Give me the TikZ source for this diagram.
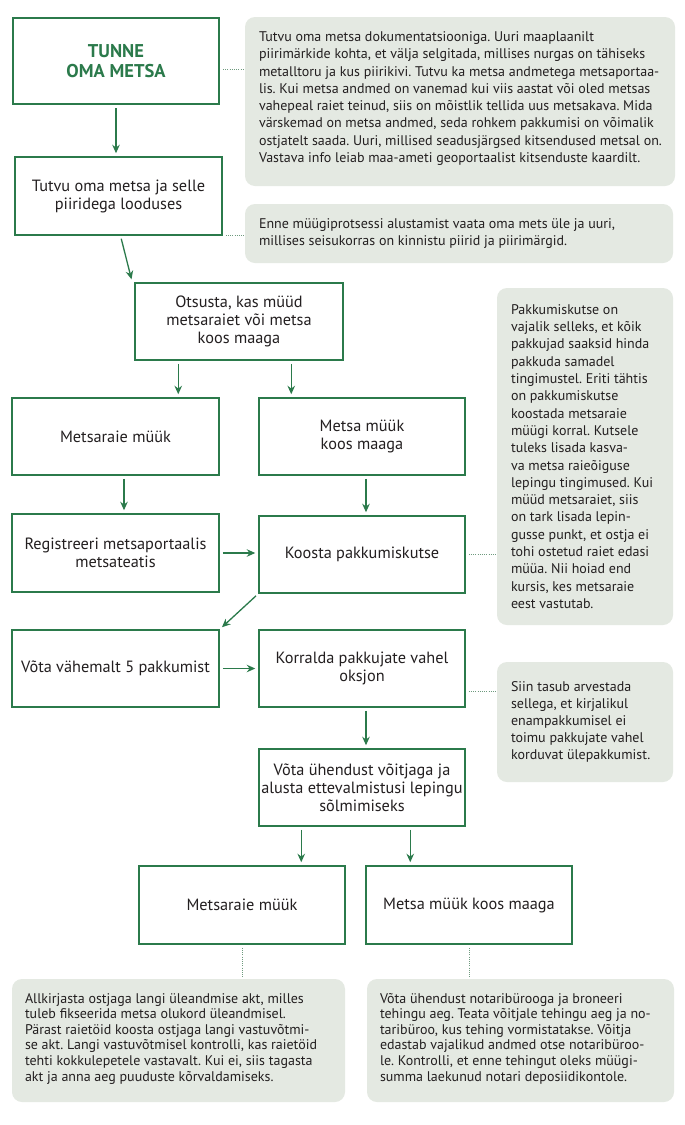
\documentclass[tikz,border=0pt]{standalone}
\usepackage{fontspec}
\setmainfont{PT Sans}
\usetikzlibrary{arrows.meta,calc}
\definecolor{fgreen}{HTML}{2B7A4B}
\definecolor{notefill}{HTML}{E4E9E2}
\definecolor{dotcol}{HTML}{6E9A7E}
\definecolor{txt}{HTML}{231F20}
\tikzset{
  box/.style={draw=fgreen, line width=1.5pt, fill=white, minimum width=206pt, minimum height=77pt,
    align=center, inner sep=2pt, text=txt, font=\fontsize{16.3}{18}\selectfont},
  note/.style={fill=notefill, rounded corners=10pt, inner sep=0pt},
  notetext/.style={anchor=west, align=left, inner sep=0pt, text=txt, font=\fontsize{14}{17.3}\selectfont},
  arr/.style={draw=fgreen, line width=1.3pt, -{Stealth[length=8.5pt,width=7.5pt]}, shorten <=3pt, shorten >=3pt},
  dotline/.style={draw=dotcol, line width=0.9pt, dash pattern=on 0.9pt off 1.3pt, shorten <=3pt, shorten >=1pt}
}
\begin{document}
\frenchspacing
\begin{tikzpicture}[x=1pt,y=-1pt]
\useasboundingbox[fill=white] (0,0) rectangle (685,1125);
% boxes
\node[box, line width=2pt, minimum width=206pt, minimum height=86pt, text=fgreen,
  font=\fontsize{18.5}{19.5}\selectfont\bfseries] (b1) at (116,61) {TUNNE\\OMA METSA};
\node[box, minimum width=207pt, minimum height=78pt] (b2) at (118.5,196) {Tutvu oma metsa ja selle\\piiridega looduses};
\node[box, minimum width=208pt] (b3) at (239,321.5) {Otsusta, kas müüd\\metsaraiet või metsa\\koos maaga};
\node[box, minimum width=207pt] (b4) at (115.5,436.5) {Metsaraie müük};
\node[box] (b5) at (362,436.5) {Metsa müük\\koos maaga};
\node[box, minimum width=207pt, minimum height=78pt] (b6) at (115.5,553) {Registreeri metsaportaalis\\metsateatis};
\node[box] (b7) at (362,554.5) {Koosta pakkumiskutse};
\node[box, minimum width=207pt] (b8) at (115.5,668.5) {Võta vähemalt 5 pakkumist};
\node[box] (b9) at (362,668.5) {Korralda pakkujate vahel\\oksjon};
\node[box] (b10) at (362,787.5) {Võta ühendust võitjaga ja\\alusta ettevalmistusi lepingu\\sõlmimiseks};
\node[box, minimum height=78pt] (b11) at (242,905) {Metsaraie müük};
\node[box, minimum height=78pt] (b12) at (469,905) {Metsa müük koos maaga};
% notes
\node[note, minimum width=430pt, minimum height=169pt] (n1) at (460,101.5) {};
\node[notetext] (t1) at ([xshift=14pt,yshift=3pt]n1.west) {Tutvu oma metsa dokumentatsiooniga. Uuri maaplaanilt\\
piirimärkide kohta, et välja selgitada, millises nurgas on tähiseks\\
metalltoru ja kus piirikivi. Tutvu ka metsa andmetega metsaportaa-\\
lis. Kui metsa andmed on vanemad kui viis aastat või oled metsas\\
vahepeal raiet teinud, siis on mõistlik tellida uus metsakava. Mida\\
värskemad on metsa andmed, seda rohkem pakkumisi on võimalik\\
ostjatelt saada. Uuri, millised seadusjärgsed kitsendused metsal on.\\
Vastava info leiab maa-ameti geoportaalist kitsenduste kaardilt.};
\node[note, minimum width=428pt, minimum height=59pt] (n2) at (459,233.5) {};
\node[notetext, font=\fontsize{14}{16.2}\selectfont] (t2) at ([xshift=14pt]n2.west) {Enne müügiprotsessi alustamist vaata oma mets üle ja uuri,\\
millises seisukorras on kinnistu piirid ja piirimärgid.};
\node[note, minimum width=176pt, minimum height=337pt] (n3) at (585,456.5) {};
\node[notetext] (t3) at ([xshift=14pt]n3.west) {Pakkumiskutse on\\
vajalik selleks, et kõik\\
pakkujad saaksid hinda\\
pakkuda samadel\\
tingimustel. Eriti tähtis\\
on pakkumiskutse\\
koostada metsaraie\\
müügi korral. Kutsele\\
tuleks lisada kasva-\\
va metsa raieõiguse\\
lepingu tingimused. Kui\\
müüd metsaraiet, siis\\
on tark lisada lepin-\\
gusse punkt, et ostja ei\\
tohi ostetud raiet edasi\\
müüa. Nii hoiad end\\
kursis, kes metsaraie\\
eest vastutab.};
\node[note, minimum width=176pt, minimum height=120pt] (n4) at (585,722) {};
\node[notetext, font=\fontsize{14}{17}\selectfont] (t4) at ([xshift=14pt]n4.west) {Siin tasub arvestada\\
sellega, et kirjalikul\\
enampakkumisel ei\\
toimu pakkujate vahel\\
korduvat ülepakkumist.};
\node[note, minimum width=333pt, minimum height=123pt] (n5) at (178.5,1040.5) {};
\node[notetext, font=\fontsize{14}{15.6}\selectfont] (t5) at ([xshift=13pt,yshift=2pt]n5.west) {Allkirjasta ostjaga langi üleandmise akt, milles\\
tuleb fikseerida metsa olukord üleandmisel.\\
Pärast raietöid koosta ostjaga langi vastuvõtmi-\\
se akt. Langi vastuvõtmisel kontrolli, kas raietöid\\
tehti kokkulepetele vastavalt. Kui ei, siis tagasta\\
akt ja anna aeg puuduste kõrvaldamiseks.};
\node[note, minimum width=307pt, minimum height=123pt] (n6) at (520.5,1040.5) {};
\node[notetext, font=\fontsize{14}{15.6}\selectfont] (t6) at ([xshift=13pt,yshift=2pt]n6.west) {Võta ühendust notaribürooga ja broneeri\\
tehingu aeg. Teata võitjale tehingu aeg ja no-\\
taribüroo, kus tehing vormistatakse. Võitja\\
edastab vajalikud andmed otse notaribüroo-\\
le. Kontrolli, et enne tehingut oleks müügi-\\
summa laekunud notari deposiidikontole.};
% arrows
\draw[arr] (b1.south) -- (b1.south |- b2.north);
\draw[arr] ([xshift=2pt]b2.south) -- ([xshift=-2pt]b3.north west);
\draw[arr] ([xshift=44pt]b3.south west) -- ([xshift=44pt]b3.south west |- b4.north);
\draw[arr] ([xshift=157pt]b3.south west) -- ([xshift=157pt]b3.south west |- b5.north);
\draw[arr] ([xshift=8.5pt]b4.south) -- ([xshift=8.5pt]b4.south |- b6.north);
\draw[arr] ([xshift=4pt]b5.south) -- ([xshift=4pt]b5.south |- b7.north);
\draw[arr] (b6.east) -- (b6.east -| b7.west);
\draw[arr] (b7.south west) -- (b8.north east);
\draw[arr] (b8.east) -- (b8.east -| b9.west);
\draw[arr] ([xshift=4pt]b9.south) -- ([xshift=4pt]b9.south |- b10.north);
\draw[arr] ([xshift=43pt]b10.south west) -- ([xshift=43pt]b10.south west |- b11.north);
\draw[arr] ([xshift=152pt]b10.south west) -- ([xshift=152pt]b10.south west |- b12.north);
% dotted connectors
\draw[dotline] ([yshift=-8pt]b1.east) -- ([yshift=-8pt]b1.east -| n1.west);
\draw[dotline] (b2.south east) -- (b2.south east -| n2.west);
\draw[dotline] (b7.east) -- (b7.east -| n3.west);
\draw[dotline] ([yshift=-22.5pt]b9.east) -- ([yshift=-22.5pt]b9.east -| n4.west);
\draw[dotline] (b11.south) -- (b11.south |- n5.north);
\draw[dotline] (b12.south) -- (b12.south |- n6.north);
\end{tikzpicture}
\end{document}
